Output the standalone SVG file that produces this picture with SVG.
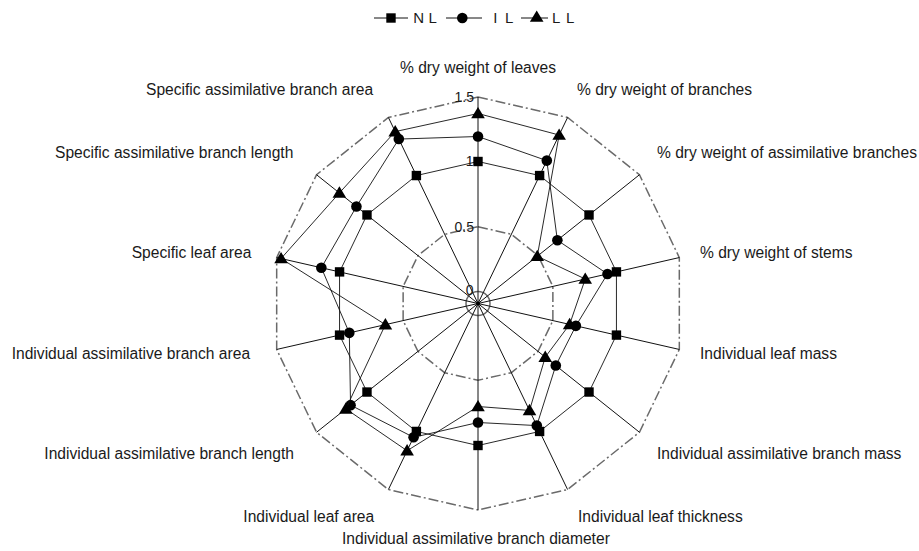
<svg xmlns="http://www.w3.org/2000/svg" xmlns:xlink="http://www.w3.org/1999/xlink" width="919" height="551" viewBox="0 0 919 551">
<style>
.lbl{font-family:"Liberation Sans",Arial,sans-serif;font-size:15.6px;fill:#1a1a1a}
.num{font-family:"Liberation Sans",Arial,sans-serif;font-size:14px;fill:#1a1a1a;text-anchor:end}
.leg{font-family:"Liberation Sans",Arial,sans-serif;font-size:15px;fill:#1a1a1a}
.ring{fill:none;stroke:#6a6a6a;stroke-width:1.5;stroke-dasharray:10 3 2 3}
.axis{stroke:#111;stroke-width:1}
.ser{fill:none;stroke:#111;stroke-width:0.9;stroke-linejoin:round}
.mk{fill:#000}
</style>
<defs>
<path id="sq" d="M-4.7,-4.7h9.4v9.4h-9.4z"/>
<circle id="ci" r="5.3"/>
<path id="tr" d="M0,-6.6L6.8,4.8H-6.8Z"/>
</defs>
<rect width="919" height="551" fill="#fff"/>

<g id="legend">
<line x1="374" y1="18" x2="408" y2="18" class="axis"/>
<use xlink:href="#sq" x="391" y="18" class="mk"/>
<text class="leg" x="413.3 428.4" y="23.3">NL</text>
<line x1="446" y1="18" x2="482" y2="18" class="axis"/>
<use xlink:href="#ci" x="462.3" y="18" class="mk"/>
<text class="leg" x="493.3 505" y="23.3">IL</text>
<line x1="521" y1="18" x2="548" y2="18" class="axis"/>
<use xlink:href="#tr" x="536.7" y="17" class="mk"/>
<text class="leg" x="552 566" y="23.3">LL</text>
</g>

<g id="chart" transform="translate(478,303.5)">
<g id="grid">
<polygon class="ring" points="0,-206.5 89.6,-186.05 161.45,-128.75 201.32,-45.95 201.32,45.95 161.45,128.75 89.6,186.05 0,206.5 -89.6,186.05 -161.45,128.75 -201.32,45.95 -201.32,-45.95 -161.45,-128.75 -89.6,-186.05"/>
<polygon class="ring" points="0,-76.8 33.32,-69.19 60.04,-47.88 74.87,-17.09 74.87,17.09 60.04,47.88 33.32,69.19 0,76.8 -33.32,69.19 -60.04,47.88 -74.87,17.09 -74.87,-17.09 -60.04,-47.88 -33.32,-69.19"/>
<circle r="12" fill="none" stroke="#6a6a6a" stroke-width="1.5"/>
</g>
<g id="axes">
<line class="axis" x1="0" y1="0" x2="0" y2="-206.5"/>
<line class="axis" x1="0" y1="0" x2="89.6" y2="-186.05"/>
<line class="axis" x1="0" y1="0" x2="161.45" y2="-128.75"/>
<line class="axis" x1="0" y1="0" x2="201.32" y2="-45.95"/>
<line class="axis" x1="0" y1="0" x2="201.32" y2="45.95"/>
<line class="axis" x1="0" y1="0" x2="161.45" y2="128.75"/>
<line class="axis" x1="0" y1="0" x2="89.6" y2="186.05"/>
<line class="axis" x1="0" y1="0" x2="0" y2="206.5"/>
<line class="axis" x1="0" y1="0" x2="-89.6" y2="186.05"/>
<line class="axis" x1="0" y1="0" x2="-161.45" y2="128.75"/>
<line class="axis" x1="0" y1="0" x2="-201.32" y2="45.95"/>
<line class="axis" x1="0" y1="0" x2="-201.32" y2="-45.95"/>
<line class="axis" x1="0" y1="0" x2="-161.45" y2="-128.75"/>
<line class="axis" x1="0" y1="0" x2="-89.6" y2="-186.05"/>
<circle r="2" fill="#000"/>
</g>

<g id="series-NL">
<polygon class="ser" points="0,-142 61.61,-127.94 111.02,-88.54 138.44,-31.6 138.44,31.6 111.02,88.54 61.61,127.94 0,142 -61.61,127.94 -111.02,88.54 -138.44,31.6 -138.44,-31.6 -111.02,-88.54 -61.61,-127.94"/>
<g class="mk">
<use xlink:href="#sq" x="0" y="-142"/><use xlink:href="#sq" x="61.61" y="-127.94"/><use xlink:href="#sq" x="111.02" y="-88.54"/><use xlink:href="#sq" x="138.44" y="-31.6"/><use xlink:href="#sq" x="138.44" y="31.6"/><use xlink:href="#sq" x="111.02" y="88.54"/><use xlink:href="#sq" x="61.61" y="127.94"/><use xlink:href="#sq" x="0" y="142"/><use xlink:href="#sq" x="-61.61" y="127.94"/><use xlink:href="#sq" x="-111.02" y="88.54"/><use xlink:href="#sq" x="-138.44" y="31.6"/><use xlink:href="#sq" x="-138.44" y="-31.6"/><use xlink:href="#sq" x="-111.02" y="-88.54"/><use xlink:href="#sq" x="-61.61" y="-127.94"/>
</g>
</g>

<g id="series-IL">
<polygon class="ser" points="0,-167 68.81,-142.89 79.36,-63.28 129.47,-29.55 97.88,22.34 77.79,62.04 58.79,122.08 0,119 -64.43,133.79 -127.44,101.63 -128.69,29.37 -156.67,-35.76 -121.57,-96.95 -79.18,-164.43"/>
<g class="mk">
<use xlink:href="#ci" x="0" y="-167"/><use xlink:href="#ci" x="68.81" y="-142.89"/><use xlink:href="#ci" x="79.36" y="-63.28"/><use xlink:href="#ci" x="129.47" y="-29.55"/><use xlink:href="#ci" x="97.88" y="22.34"/><use xlink:href="#ci" x="77.79" y="62.04"/><use xlink:href="#ci" x="58.79" y="122.08"/><use xlink:href="#ci" x="0" y="119"/><use xlink:href="#ci" x="-64.43" y="133.79"/><use xlink:href="#ci" x="-127.44" y="101.63"/><use xlink:href="#ci" x="-128.69" y="29.37"/><use xlink:href="#ci" x="-156.67" y="-35.76"/><use xlink:href="#ci" x="-121.57" y="-96.95"/><use xlink:href="#ci" x="-79.18" y="-164.43"/>
</g>
</g>

<g id="series-LL">
<polygon class="ser" points="0,-190 81.14,-168.48 59.26,-47.26 107.24,-24.48 91.64,20.92 67.24,53.62 51.5,106.95 0,103 -70.9,147.22 -132.13,105.37 -92.62,21.14 -196.94,-44.95 -138.62,-110.54 -82.78,-171.91"/>
<g class="mk">
<use xlink:href="#tr" x="0" y="-190"/><use xlink:href="#tr" x="81.14" y="-168.48"/><use xlink:href="#tr" x="59.26" y="-47.26"/><use xlink:href="#tr" x="107.24" y="-24.48"/><use xlink:href="#tr" x="91.64" y="20.92"/><use xlink:href="#tr" x="67.24" y="53.62"/><use xlink:href="#tr" x="51.5" y="106.95"/><use xlink:href="#tr" x="0" y="103"/><use xlink:href="#tr" x="-70.9" y="147.22"/><use xlink:href="#tr" x="-132.13" y="105.37"/><use xlink:href="#tr" x="-92.62" y="21.14"/><use xlink:href="#tr" x="-196.94" y="-44.95"/><use xlink:href="#tr" x="-138.62" y="-110.54"/><use xlink:href="#tr" x="-82.78" y="-171.91"/>
</g>
</g>
</g>

<g id="scale">
<text class="num" x="474" y="101.5">1.5</text>
<text class="num" x="473.5" y="165.5">1</text>
<text class="num" x="474" y="231.5">0.5</text>
<text class="num" x="473.5" y="295">0</text>
</g>

<g id="labels" class="lbl">
<text x="478" y="73" text-anchor="middle">% dry weight of leaves</text>
<text x="577" y="95">% dry weight of branches</text>
<text x="657" y="158.3">% dry weight of assimilative branches</text>
<text x="700" y="258.3">% dry weight of stems</text>
<text x="700" y="359">Individual leaf mass</text>
<text x="657" y="459.3">Individual assimilative branch mass</text>
<text x="578" y="522.3">Individual leaf thickness</text>
<text x="342" y="544.3">Individual assimilative branch diameter</text>
<text x="243.3" y="522.3">Individual leaf area</text>
<text x="44.3" y="459.3">Individual assimilative branch length</text>
<text x="11.7" y="359.3">Individual assimilative branch area</text>
<text x="131.7" y="258.3">Specific leaf area</text>
<text x="55" y="158.3">Specific assimilative branch length</text>
<text x="146" y="95">Specific assimilative branch area</text>
</g>
</svg>
